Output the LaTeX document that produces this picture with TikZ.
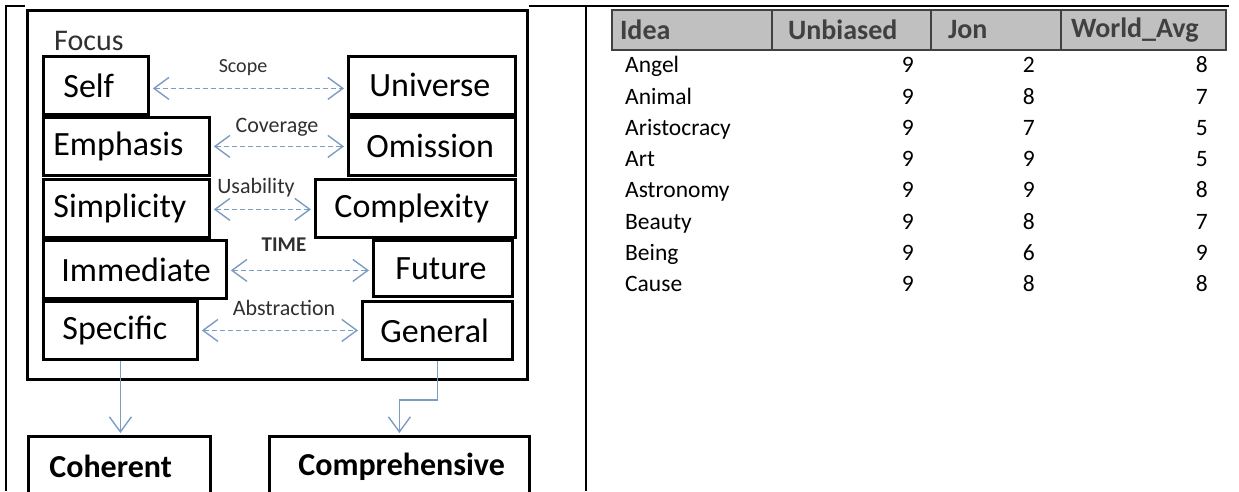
\documentclass[tikz,border=0pt]{standalone}
\usepackage{fontspec}
\setmainfont{Carlito}
\usetikzlibrary{arrows.meta}

\definecolor{linkblue}{HTML}{7C9CC2}
\definecolor{headgray}{HTML}{C0C0C0}
\definecolor{headline}{HTML}{404040}
\definecolor{labelgray}{HTML}{303030}

\newcommand{\boxfont}{\fontsize{34}{38}\selectfont}
\newcommand{\lblfont}{\fontsize{22}{26}\selectfont}
\newcommand{\headfont}{\fontsize{28}{32}\selectfont\bfseries}
\newcommand{\rowfont}{\fontsize{23.5}{26}\selectfont}

\begin{document}
\begin{tikzpicture}[x=1pt,y=-1pt]
    % Stili
    \tikzstyle{concept}=[draw, line width=2.8pt, anchor=north west, inner sep=0pt, align=left, font=\boxfont, minimum height=58pt]
    \tikzstyle{result}=[concept, font=\fontsize{32}{36}\selectfont\bfseries, minimum height=60pt]
    \tikzstyle{lbl}=[inner sep=0pt, text=labelgray, font=\lblfont]
    \tikzstyle{spanarrow}=[{Straight Barb[length=15pt,width=22pt]}-{Straight Barb[length=15pt,width=22pt]}, dash pattern=on 5pt off 3pt, draw=linkblue, line width=1.4pt, shorten <=3pt, shorten >=3pt]
    \tikzstyle{flow}=[-{Straight Barb[length=15pt,width=22pt]}, draw=linkblue, line width=1.4pt, shorten >=2pt]
    \tikzstyle{headcell}=[draw=headline, fill=headgray, line width=2pt, anchor=north west, inner sep=0pt, minimum height=40pt, align=left, text=headline, font=\headfont]
    \tikzstyle{row}=[inner sep=0pt, font=\rowfont]

    \useasboundingbox (0,0) rectangle (1239,491);

    % Bordi della tabella esterna
    \draw[line width=2pt] (6,491) -- (6,6) -- (25,6);
    \draw[line width=2pt] (529,6) -- (1229,6);
    \draw[line width=2pt] (586,6) -- (586,491);

    % Cornice del focus
    \draw[line width=3pt] (27,10) rectangle (527,379);
    \node[anchor=base west, inner sep=0pt, text=labelgray, font=\fontsize{30}{34}\selectfont] (focus) at (54,50) {Focus};

    % Coppie di concetti
    \node[concept, text width=105pt] (self) at (42,55) {\hspace*{20pt}Self};
    \node[concept, text width=167pt] (universe) at (347,55) {\hspace*{21pt}Universe};
    \node[concept, text width=166pt] (emphasis) at (42,116) {\hspace*{10pt}Emphasis};
    \node[concept, text width=167pt] (omission) at (347,116) {\hspace*{18pt}Omission};
    \node[concept, text width=166pt] (simplicity) at (42,178) {\hspace*{10pt}Simplicity};
    \node[concept, text width=200pt] (complexity) at (314,178) {\hspace*{19pt}Complexity};
    \node[concept, text width=183pt] (immediate) at (42,239) {\hspace*{18pt}Immediate};
    \node[concept, text width=139pt, minimum height=56pt] (future) at (372,239) {\hspace*{22pt}Future};
    \node[concept, text width=154pt] (specific) at (42,300) {\hspace*{19pt}Specific};
    \node[concept, text width=150pt] (general) at (361,300) {\hspace*{18pt}General};

    % Etichette delle frecce
    \node[lbl, font=\fontsize{20}{24}\selectfont] (scope) at (243,68) {Scope};
    \node[lbl] (coverage) at (277,127) {Coverage};
    \node[lbl] (usability) at (256,188) {Usability};
    \node[lbl, font=\fontsize{21}{24}\selectfont\bfseries] (time) at (284,245) {TIME};
    \node[lbl] (abstraction) at (284,308) {Abstraction};

    % Frecce tratteggiate
    \draw[spanarrow] ([yshift=-3pt]self.east) -- ([yshift=-3pt]self.east -| universe.west);
    \draw[spanarrow] (emphasis.east) -- (emphasis.east -| omission.west);
    \draw[spanarrow] ([yshift=-1pt]simplicity.east) -- ([yshift=-1pt]simplicity.east -| complexity.west);
    \draw[spanarrow] ([yshift=-1pt]immediate.east) -- ([yshift=-1pt]immediate.east -| future.west);
    \draw[spanarrow] (specific.east) -- (specific.east -| general.west);

    % Risultati
    \node[result, text width=182pt] (coherent) at (27,435) {\hspace*{21pt}Coherent};
    \node[result, text width=260pt] (comprehensive) at (268,435) {\hspace*{29pt}Comprehensive};

    \draw[flow] (specific.south) -- (specific.south |- coherent.north);
    \draw[flow] (general.south) -- ++(0,39) -| (comprehensive.north);

    % Intestazione tabella
    \node[headcell, text width=160pt] (hidea) at (611,9) {\hspace*{8pt}Idea};
    \node[headcell, text width=159pt] (hunb) at (771,9) {\hspace*{16pt}Unbiased};
    \node[headcell, text width=130pt] (hjon) at (930,9) {\hspace*{17pt}Jon};
    \node[headcell, text width=165pt] (hwavg) at (1060,9) {\hspace*{10pt}World\_Avg};

    % Righe
    \foreach \idea/\unb/\jon/\wavg [count=\i from 0] in {Angel/9/2/8, Animal/9/8/7, Aristocracy/9/7/5, Art/9/9/5, Astronomy/9/9/8, Beauty/9/8/7, Being/9/6/9, Cause/9/8/8} {
        \node[row, anchor=base west] (idea\i) at (625,72.7+31.3*\i) {\idea};
        \node[row, anchor=base east] (unb\i) at (914,72.7+31.3*\i) {\unb};
        \node[row, anchor=base east] (jon\i) at (1035,72.7+31.3*\i) {\jon};
        \node[row, anchor=base east] (wavg\i) at (1208,72.7+31.3*\i) {\wavg};
    }
\end{tikzpicture}
\end{document}
